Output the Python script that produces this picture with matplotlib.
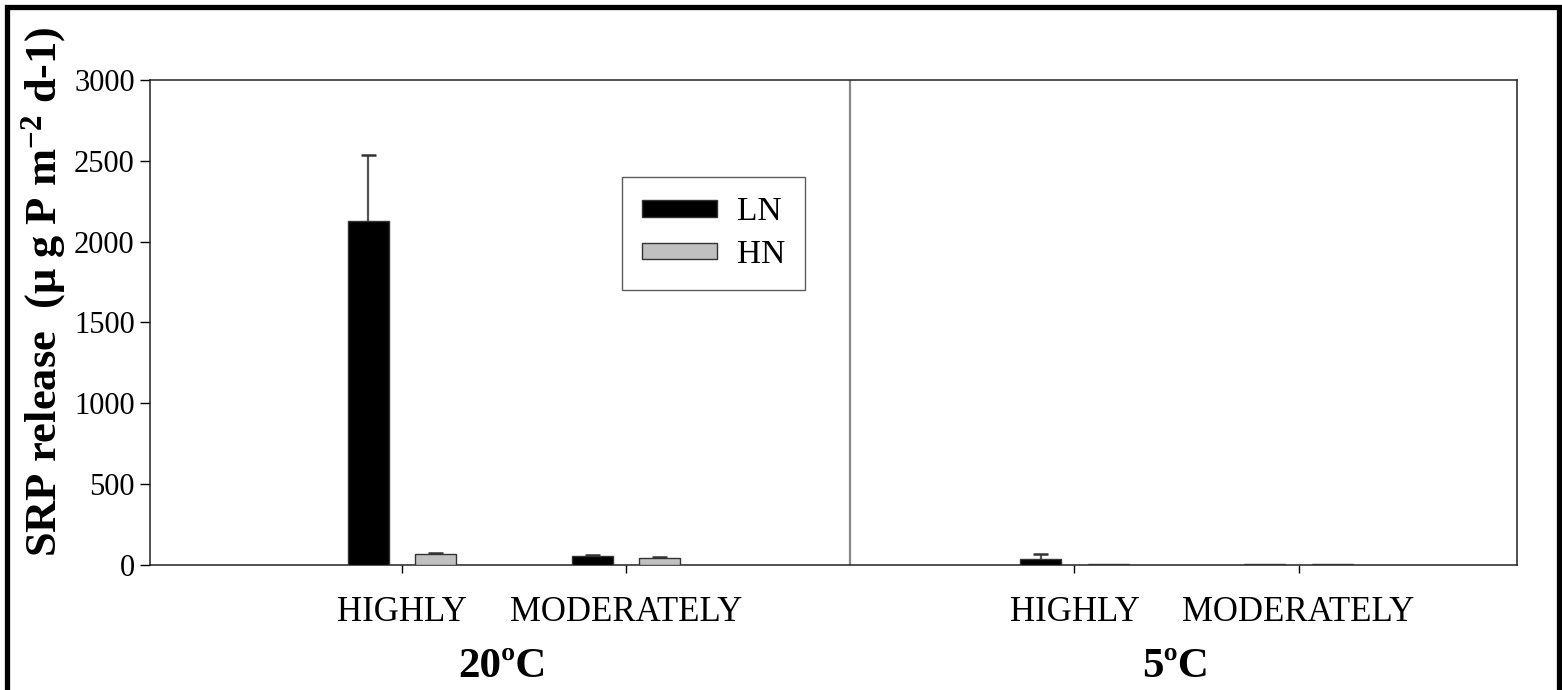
import matplotlib
matplotlib.use("Agg")
import matplotlib.pyplot as plt
from matplotlib.patches import Rectangle

plt.rcParams["font.family"] = ["Liberation Serif", "DejaVu Serif"]
plt.rcParams["mathtext.fontset"] = "custom"
plt.rcParams["mathtext.rm"] = "Liberation Serif"
plt.rcParams["mathtext.bf"] = "Liberation Serif:bold"
plt.rcParams["mathtext.it"] = "Liberation Serif:italic"

# SRP release per sediment type and temperature
categories = ["HIGHLY", "MODERATELY", "HIGHLY", "MODERATELY"]
temperatures = ["20ºC", "5ºC"]
ln_mean = [2128, 56, 40, 4]
ln_err = [408, 6, 30, 0]
hn_mean = [65, 45, 4, 4]
hn_err = [7, 7, 0, 0]
series_names = ["LN", "HN"]
yticks = [0, 500, 1000, 1500, 2000, 2500, 3000]

positions = [1, 2, 4, 5]
offset = 0.15
width = 0.183
cap_half = 0.034

fig = plt.figure(figsize=(15.62, 6.9), dpi=100)
ax = fig.add_axes([0.0960, 0.1812, 0.8752, 0.7029])

series = [
    (ln_mean, ln_err, -offset, "black", series_names[0]),
    (hn_mean, hn_err, +offset, "#c0c0c0", series_names[1]),
]
for means, errs, shift, color, name in series:
    xs = [p + shift for p in positions]
    ax.bar(xs, means, width=width, color=color, edgecolor="#333333",
           linewidth=1.0, label=name, zorder=3)
    # upper error bars only
    for x, m, e in zip(xs, means, errs):
        if e > 0:
            ax.vlines(x, m, m + e, color="#555555", linewidth=1.6, zorder=2)
            ax.hlines(m + e, x - cap_half, x + cap_half, color="#333333",
                      linewidth=1.8, zorder=4)

# separator between the two temperature panels
ax.axvline(3, color="#888888", linewidth=1.6, zorder=2)

ax.set_xlim(-0.125, 5.975)
ax.set_ylim(0, 3000)
ax.set_yticks(yticks)
ax.set_yticklabels([str(v) for v in yticks], fontsize=22)
ax.set_xticks(positions)
ax.set_xticklabels(categories, fontsize=25)
ax.tick_params(axis="y", direction="out", length=7, width=1.0, pad=4)
ax.tick_params(axis="x", direction="out", length=6, width=1.0, pad=16)
for side in ["left", "bottom", "top", "right"]:
    ax.spines[side].set_linewidth(1.1)
    ax.spines[side].set_color("#222222")

ylab = ax.set_ylabel(r"SRP release  (μ g P m$^{\mathbf{-2}}$ d-1)",
                     fontsize=32, fontweight="bold", labelpad=4)
ylab.set_y(0.563)
ylab.set_zorder(10)

# temperature group labels
for center, label in zip([1.45, 4.45], temperatures):
    ax.text(center, -0.21, label, transform=ax.get_xaxis_transform(),
            ha="center", va="center", fontsize=31, fontweight="bold")

leg = ax.legend(loc="upper left", bbox_to_anchor=(0.345, 0.800), borderaxespad=0,
                fontsize=24, frameon=True, fancybox=False, edgecolor="#333333",
                handlelength=2.25, handleheight=0.4, handletextpad=0.6,
                borderpad=0.6, labelspacing=0.36)
leg.get_frame().set_linewidth(1.0)

# outer frame around the figure
fig.patches.append(Rectangle((6.5 / 1562, -0.05), 1552 / 1562, (690 - 6.5) / 690 + 0.05,
                             transform=fig.transFigure, fill=False,
                             edgecolor="black", linewidth=3.8, zorder=20))

fig.savefig("out.png", dpi=100)
